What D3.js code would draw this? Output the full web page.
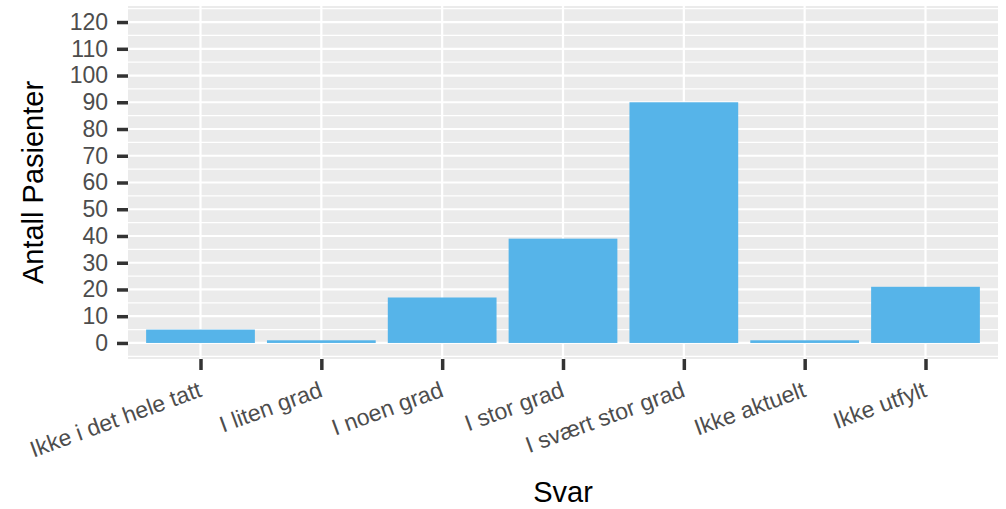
<!DOCTYPE html>
<html>
<head>
<meta charset="utf-8">
<script src="https://cdn.jsdelivr.net/npm/d3@7"></script>
<style>
  body { margin: 0; background: #fff; }
  text { font-family: "Liberation Sans", Arial, sans-serif; }
</style>
</head>
<body>
<svg id="chart" width="1006" height="509"></svg>
<script>
// answer categories and patient counts
const categories = ['Ikke i det hele tatt', 'I liten grad', 'I noen grad', 'I stor grad',
  'I svært stor grad', 'Ikke aktuelt', 'Ikke utfylt'];
const counts = [5, 1, 17, 39, 90, 1, 21];
const yTicks = [0, 10, 20, 30, 40, 50, 60, 70, 80, 90, 100, 110, 120];

var svg = d3.select('#chart');
var panel = { left: 128, right: 998, top: 6, bottom: 359 };

// discrete axis with ggplot-style 0.6 unit expansion
var step = (panel.right - panel.left) / (categories.length - 1 + 1.2);
var x = d3.scalePoint()
  .domain(categories)
  .range([panel.left + 0.6 * step, panel.right - 0.6 * step]);

var y = d3.scaleLinear()
  .domain([-6, 126])
  .range([panel.bottom, panel.top]);

// panel background
svg.append('rect')
  .attr('x', panel.left)
  .attr('y', panel.top)
  .attr('width', panel.right - panel.left)
  .attr('height', panel.bottom - panel.top)
  .attr('fill', '#EBEBEB');

// minor grid lines
var minor = d3.range(-5, 126, 10);
svg.append('g').selectAll('line').data(minor).enter().append('line')
  .attr('x1', panel.left).attr('x2', panel.right)
  .attr('y1', d => y(d)).attr('y2', d => y(d))
  .attr('stroke', '#fff').attr('stroke-width', 1.1);

// major grid lines
svg.append('g').selectAll('line').data(yTicks).enter().append('line')
  .attr('x1', panel.left).attr('x2', panel.right)
  .attr('y1', d => y(d)).attr('y2', d => y(d))
  .attr('stroke', '#fff').attr('stroke-width', 2.2);
svg.append('g').selectAll('line').data(categories).enter().append('line')
  .attr('x1', d => x(d)).attr('x2', d => x(d))
  .attr('y1', panel.top).attr('y2', panel.bottom)
  .attr('stroke', '#fff').attr('stroke-width', 2.2);

// bars
var barW = step * 0.9;
svg.append('g').selectAll('rect').data(counts).enter().append('rect')
  .attr('x', (d, i) => x(categories[i]) - barW / 2)
  .attr('width', barW)
  .attr('y', d => y(d))
  .attr('height', d => y(0) - y(d))
  .attr('fill', '#56B4E9');

// y axis
var yAxis = svg.append('g')
  .attr('transform', 'translate(' + panel.left + ',0)')
  .call(d3.axisLeft(y).tickValues(yTicks).tickSize(11).tickPadding(9));
yAxis.select('.domain').remove();
yAxis.selectAll('.tick line').attr('stroke', '#333').attr('stroke-width', 3.5);
yAxis.selectAll('.tick text')
  .attr('fill', '#4D4D4D')
  .style('font-size', '23px')
  .style('font-family', '"Liberation Sans", Arial, sans-serif');

// x axis
var xAxis = svg.append('g')
  .attr('transform', 'translate(0,' + panel.bottom + ')')
  .call(d3.axisBottom(x).tickSize(11).tickPadding(0));
xAxis.select('.domain').remove();
xAxis.selectAll('.tick line').attr('stroke', '#333').attr('stroke-width', 3.5);
xAxis.selectAll('.tick text')
  .attr('fill', '#4D4D4D')
  .attr('text-anchor', 'end')
  .attr('dy', null)
  .attr('y', 0)
  .attr('transform', 'translate(2,37) rotate(-20)')
  .style('font-size', '23px')
  .style('font-family', '"Liberation Sans", Arial, sans-serif');

// axis titles
svg.append('text')
  .attr('x', (panel.left + panel.right) / 2)
  .attr('y', 502)
  .attr('text-anchor', 'middle')
  .style('font-size', '29px')
  .text('Svar');
svg.append('text')
  .attr('transform', 'translate(43,' + ((panel.top + panel.bottom) / 2) + ') rotate(-90)')
  .attr('text-anchor', 'middle')
  .style('font-size', '29px')
  .text('Antall Pasienter');
</script>
</body>
</html>
